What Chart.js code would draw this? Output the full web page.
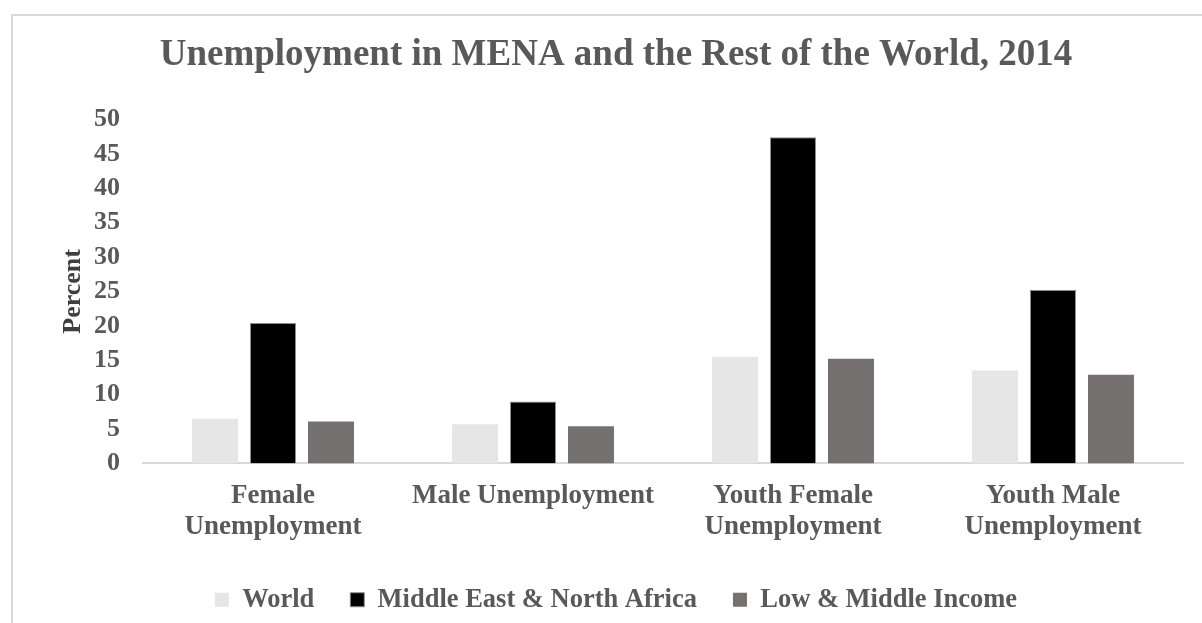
<!DOCTYPE html>
<html>
<head>
<meta charset="utf-8">
<script src="https://cdn.jsdelivr.net/npm/chart.js@4.4.1/dist/chart.umd.min.js"></script>
<style>
  html, body { margin: 0; padding: 0; background: #fff; overflow: hidden; }
  #frame { position: absolute; left: 11px; top: 14px; width: 1400px; height: 800px;
           border-left: 2px solid #d9d9d9; border-top: 2px solid #d9d9d9; }
  #wrap { position: absolute; left: 0; top: 0; width: 1202px; height: 623px; }
</style>
</head>
<body>
<div id="frame"></div>
<div id="wrap"><canvas id="chart"></canvas></div>
<script>
// values (percent)
const categories = [
  ['Female', 'Unemployment'],
  'Male Unemployment',
  ['Youth Female', 'Unemployment'],
  ['Youth Male', 'Unemployment']
];
const seriesNames = ['World', 'Middle East & North Africa', 'Low & Middle Income'];
const world = [6.5, 5.7, 15.5, 13.5];
const mena = [20.4, 9.0, 47.4, 25.2];
const lowMid = [6.1, 5.4, 15.2, 12.9];
const seriesColors = ['#e7e6e6', '#000000', '#767171'];

const TXT = '#595959';
const FONT = '"Liberation Serif", "Times New Roman", serif';

const ctx = document.getElementById('chart').getContext('2d');
new Chart(ctx, {
  type: 'bar',
  data: {
    labels: categories,
    datasets: [
      { label: seriesNames[0], data: world, backgroundColor: seriesColors[0], borderWidth: 0 },
      { label: seriesNames[1], data: mena, backgroundColor: seriesColors[1], borderColor: '#8c8c8c', borderWidth: 1 },
      { label: seriesNames[2], data: lowMid, backgroundColor: seriesColors[2], borderWidth: 0 }
    ]
  },
  options: {
    responsive: true,
    maintainAspectRatio: false,
    animation: false,
    layout: { padding: { left: 49, right: 19, top: 0, bottom: 0 } },
    datasets: { bar: { categoryPercentage: 0.669, barPercentage: 0.793 } },
    plugins: {
      title: {
        display: true,
        text: 'Unemployment in MENA and the Rest of the World, 2014',
        color: TXT,
        font: { family: FONT, size: 37, weight: 'bold' },
        padding: { top: 33, bottom: 42 }
      },
      legend: {
        position: 'bottom',
        labels: {
          color: TXT,
          font: { family: FONT, size: 26.5, weight: 'bold' },
          boxWidth: 14, boxHeight: 14,
          padding: 36
        }
      },
      tooltip: { enabled: false }
    },
    scales: {
      x: {
        grid: { display: false, drawTicks: false },
        border: { color: '#d9d9d9', width: 2 },
        ticks: {
          color: TXT, padding: 17, maxRotation: 0, autoSkip: false,
          font: { family: FONT, size: 27, weight: 'bold', lineHeight: 1.15 }
        },
        afterFit(scale) { scale.height -= 9; }
      },
      y: {
        min: 0, max: 50,
        grid: { display: false, drawTicks: false },
        border: { display: false },
        ticks: {
          stepSize: 5, autoSkip: false, color: TXT, padding: 23,
          font: { family: FONT, size: 26, weight: 'bold' }
        },
        title: {
          display: true, text: 'Percent', color: '#3f3f3f',
          font: { family: FONT, size: 26, weight: 'bold' },
          padding: { top: 9, bottom: 0 }
        },
        afterFit(scale) { scale.width = 94; }
      }
    }
  }
});
</script>
</body>
</html>
